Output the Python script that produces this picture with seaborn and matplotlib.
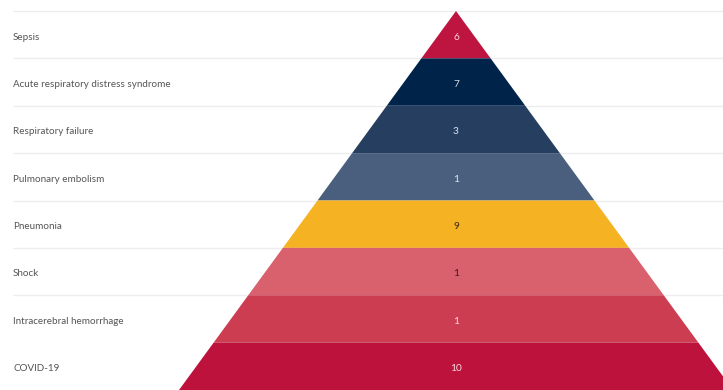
import matplotlib
matplotlib.use("Agg")
import matplotlib.pyplot as plt
import seaborn as sns

# Causes of death, listed from the apex of the pyramid down to its base
causes = [
    "Sepsis",
    "Acute respiratory distress syndrome",
    "Respiratory failure",
    "Pulmonary embolism",
    "Pneumonia",
    "Shock",
    "Intracerebral hemorrhage",
    "COVID-19",
]
counts = [6, 7, 3, 1, 9, 1, 1, 10]
band_colors = ["#BE1540", "#00234A", "#263F61", "#4A5F7D",
               "#F5B324", "#D9606D", "#CC3D52", "#BC123B"]
value_colors = ["#F3D3DB", "#D5DAE3", "#DDE2EA", "#E3E7EE",
                "#3A2A10", "#3A1A20", "#F8E0E4", "#F6D8DF"]

sns.set_theme(style="white")
plt.rcParams["font.family"] = ["Lato", "DejaVu Sans"]

W, H, DPI = 723, 390, 100
fig = plt.figure(figsize=(W / DPI, H / DPI), dpi=DPI)
ax = fig.add_axes([0, 0, 1, 1])

n = len(causes)
palette = sns.color_palette(band_colors, n)

# pyramid geometry in axis units: x in pixels, y in band rows
apex_x = 456
half_base = 277
top_margin = 11 / ((H - 11) / n)   # free space above the apex, in rows

def half_width(row_edge):
    # half width of the pyramid at a band boundary (0 = apex, n = base)
    return half_base * row_edge / n

for i, (cause, count) in enumerate(zip(causes, counts)):
    y0, y1 = i, i + 1
    w0, w1 = half_width(y0), half_width(y1)
    # row separator line behind the pyramid
    if i < n - 1:
        ax.plot([13, W], [y0, y0], color="#EDEDED", lw=1.0, zorder=1,
                solid_capstyle="butt")
    ax.fill([apex_x - w0, apex_x + w0, apex_x + w1, apex_x - w1],
            [y0, y0, y1, y1], color=palette[i], lw=0, zorder=2)
    ax.text(13, i + 0.55, cause, ha="left", va="center",
            fontsize=7.1, color="#555555", zorder=3)
    ax.text(apex_x, i + 0.55, str(count), ha="center", va="center",
            fontsize=7.3, color=value_colors[i], zorder=3)

ax.set_xlim(0, W)
ax.set_ylim(n, -top_margin)
ax.axis("off")

fig.savefig("out.png", dpi=DPI, facecolor="white")
